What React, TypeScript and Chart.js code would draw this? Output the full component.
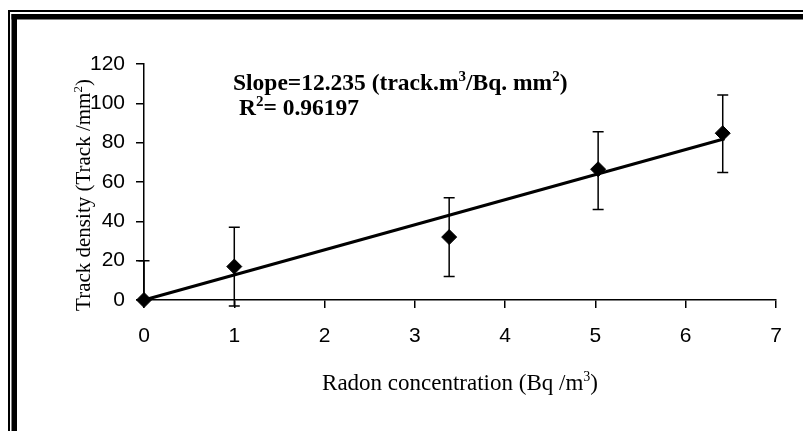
import React, { useEffect, useRef } from "react";
import { Chart, registerables } from "chart.js";

Chart.register(...registerables);

// ---- data ----
const radonConcentration = [0, 1, 3.38, 5.03, 6.41];
const trackDensity = [0, 17, 32, 66.5, 84.8];
const errorUp = [20, 20, 20, 19, 19.5];
const errorDown = [0, 20, 20, 20.5, 20];
const fitX = [0, 6.43];
const fitY = [0, 82];
const xMin = 0;
const xMax = 7;
const xStep = 1;
const yMin = 0;
const yMax = 120;
const yStep = 20;

type Part = [string, boolean];
const slopeText: Part[] = [
  ["Slope=12.235 (track.m", false],
  ["3", true],
  ["/Bq. mm", false],
  ["2", true],
  [")", false],
];
const r2Text: Part[] = [
  ["R", false],
  ["2", true],
  ["= 0.96197", false],
];
const xTitle: Part[] = [
  ["Radon concentration (Bq /m", false],
  ["3", true],
  [")", false],
];
const yTitle: Part[] = [
  ["Track density (Track /mm", false],
  ["2", true],
  [")", false],
];

const SERIF = '"Liberation Serif", "Times New Roman", serif';
const SANS = '"Liberation Sans", Arial, sans-serif';

function drawRich(
  ctx: CanvasRenderingContext2D,
  parts: Part[],
  x: number,
  y: number,
  size: number,
  weight: string,
  align: "left" | "center"
) {
  const base = `${weight} ${size}px ${SERIF}`;
  const sup = `${weight} ${Math.round(size * 0.62)}px ${SERIF}`;
  let total = 0;
  for (const [t, s] of parts) {
    ctx.font = s ? sup : base;
    total += ctx.measureText(t).width;
  }
  let cx = align === "center" ? x - total / 2 : x;
  ctx.textAlign = "left";
  ctx.textBaseline = "alphabetic";
  ctx.fillStyle = "#000";
  for (const [t, s] of parts) {
    ctx.font = s ? sup : base;
    ctx.fillText(t, cx, s ? y - size * 0.4 : y);
    cx += ctx.measureText(t).width;
  }
}

const framePlugin = {
  id: "frame",
  beforeDraw(chart: any) {
    const ctx = chart.ctx as CanvasRenderingContext2D;
    const w = chart.width;
    const h = chart.height;
    ctx.save();
    ctx.fillStyle = "#fff";
    ctx.fillRect(0, 0, w, h);
    ctx.fillStyle = "#000";
    // thin outer line
    ctx.fillRect(8, 10, w - 8, 2);
    ctx.fillRect(8, 10, 2, h - 10);
    // thick inner line
    ctx.fillRect(11.5, 14, w - 11.5, 5.5);
    ctx.fillRect(11.5, 14, 5.5, h - 14);
    ctx.restore();
  },
};

const errorBarPlugin = {
  id: "errorBars",
  afterDatasetsDraw(chart: any) {
    const ctx = chart.ctx as CanvasRenderingContext2D;
    const xs = chart.scales.x;
    const ys = chart.scales.y;
    const cap = 5.5;
    ctx.save();
    ctx.strokeStyle = "#000";
    ctx.lineWidth = 1.5;
    for (let i = 0; i < radonConcentration.length; i++) {
      const px = xs.getPixelForValue(radonConcentration[i]);
      const top = ys.getPixelForValue(trackDensity[i] + errorUp[i]);
      const bot = ys.getPixelForValue(trackDensity[i] - errorDown[i]);
      ctx.beginPath();
      ctx.moveTo(px, top);
      ctx.lineTo(px, bot);
      if (errorUp[i] > 0) {
        ctx.moveTo(px - cap, top);
        ctx.lineTo(px + cap, top);
      }
      if (errorDown[i] > 0) {
        ctx.moveTo(px - cap, bot);
        ctx.lineTo(px + cap, bot);
      }
      ctx.stroke();
    }
    ctx.restore();
  },
};

const textPlugin = {
  id: "texts",
  afterDraw(chart: any) {
    const ctx = chart.ctx as CanvasRenderingContext2D;
    const a = chart.chartArea;
    ctx.save();
    drawRich(ctx, slopeText, a.left + 89, a.top + 26, 23.5, "bold", "left");
    drawRich(ctx, r2Text, a.left + 95, a.top + 51, 23.5, "bold", "left");
    drawRich(ctx, xTitle, (a.left + a.right) / 2, a.bottom + 90, 23, "normal", "center");
    ctx.translate(a.left - 54, 195);
    ctx.rotate(-Math.PI / 2);
    drawRich(ctx, yTitle, 0, 0, 21, "normal", "center");
    ctx.restore();
  },
};

export default function App() {
  const ref = useRef<HTMLCanvasElement | null>(null);
  useEffect(() => {
    if (!ref.current) return;
    const points = radonConcentration.map((x, i) => ({ x, y: trackDensity[i] }));
    const fit = fitX.map((x, i) => ({ x, y: fitY[i] }));
    const chart = new Chart(ref.current, {
      type: "scatter",
      data: {
        datasets: [
          {
            label: "Track density",
            data: points,
            pointStyle: "rectRot",
            pointRadius: 7.5,
            pointHoverRadius: 7.5,
            backgroundColor: "#000",
            borderColor: "#000",
            borderWidth: 1,
            showLine: false,
            clip: false as any,
          },
          {
            label: "Fit",
            data: fit,
            showLine: true,
            borderColor: "#000",
            borderWidth: 3,
            pointRadius: 0,
            clip: false as any,
          },
        ],
      },
      options: {
        animation: false,
        responsive: false,
        devicePixelRatio: 1,
        layout: { padding: { left: 0, top: 64, right: 27, bottom: 0 } },
        plugins: {
          legend: { display: false },
          tooltip: { enabled: false },
          title: { display: false },
        },
        scales: {
          x: {
            type: "linear",
            min: xMin,
            max: xMax,
            ticks: {
              stepSize: xStep,
              color: "#000",
              font: { family: SANS, size: 21 },
              padding: 16,
              maxRotation: 0,
            },
            grid: {
              display: true,
              drawOnChartArea: false,
              drawTicks: true,
              tickLength: 8,
              color: "#000",
              lineWidth: 1.5,
            },
            border: { display: true, color: "#000", width: 1.5 },
            afterFit: (s: any) => {
              s.height = 131;
            },
          },
          y: {
            type: "linear",
            min: yMin,
            max: yMax,
            ticks: {
              stepSize: yStep,
              color: "#000",
              font: { family: SANS, size: 21 },
              padding: 11,
            },
            grid: {
              display: true,
              drawOnChartArea: false,
              drawTicks: true,
              tickLength: 8,
              color: "#000",
              lineWidth: 1.5,
            },
            border: { display: true, color: "#000", width: 1.5 },
            afterFit: (s: any) => {
              s.width = 144;
            },
          },
        },
      },
      plugins: [framePlugin, errorBarPlugin, textPlugin],
    });
    return () => chart.destroy();
  }, []);
  return (
    <div style={{ position: "absolute", left: 0, top: 0, width: 803, height: 431 }}>
      <canvas ref={ref} width={803} height={431} style={{ display: "block" }} />
    </div>
  );
}
